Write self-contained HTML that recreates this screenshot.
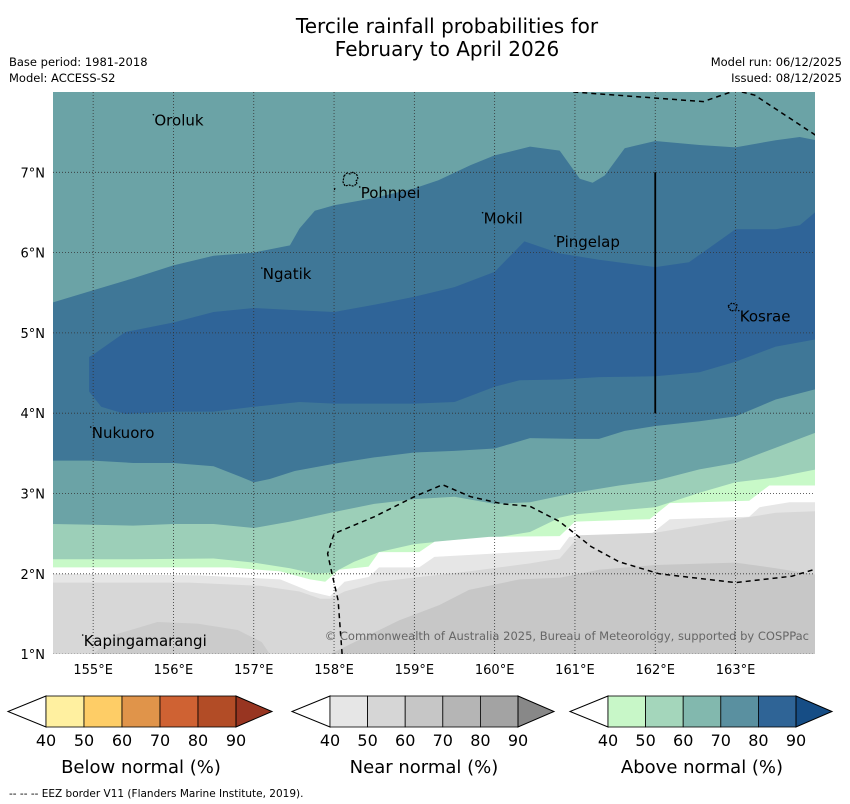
<!DOCTYPE html>
<html><head><meta charset="utf-8"><style>
body{margin:0;background:#fff;font-family:"DejaVu Sans","Liberation Sans",sans-serif}
svg{display:block}
</style></head><body>
<svg width="850" height="804" viewBox="0 0 850 804" xmlns="http://www.w3.org/2000/svg">
<text x="447" y="33" font-size="20" text-anchor="middle">Tercile rainfall probabilities for</text>
<text x="447" y="56" font-size="20" text-anchor="middle">February to April 2026</text>
<text x="9" y="66" font-size="11.5">Base period: 1981-2018</text>
<text x="9" y="82" font-size="11.5">Model: ACCESS-S2</text>
<text x="842" y="66" font-size="11.5" text-anchor="end">Model run: 06/12/2025</text>
<text x="842" y="82" font-size="11.5" text-anchor="end">Issued: 08/12/2025</text>
<defs><clipPath id="mc"><rect x="53" y="92" width="762" height="562"/></clipPath></defs>
<g id="map" clip-path="url(#mc)"></g>
<g id="axes"></g>
<g id="bars"></g>
<text x="9" y="797" font-size="10.5">--  --  -- EEZ border V11 (Flanders Marine Institute, 2019).</text>
</svg>
<script>
const lonTicks=[155,156,157,158,159,160,161,162,163];
const latTicks=[1,2,3,4,5,6,7];
function X(lon){return 53+(lon-154.5)*80.3;}
function Y(lat){return 92+(8-lat)*80.3;}
const midTealTopLon=[154.5,155,155.5,156,156.5,157,157.45,157.57,157.76,158,158.5,159,159.3,159.7,160,160.44,160.81,161.06,161.22,161.37,161.62,162,162.55,163,163.5,163.8,164];
const midTealTopLat=[5.38,5.53,5.68,5.84,5.96,6.0,6.09,6.30,6.52,6.59,6.68,6.80,6.90,7.09,7.21,7.32,7.27,6.92,6.87,6.96,7.30,7.39,7.34,7.31,7.40,7.44,7.40];
const midTealBotLon=[154.5,155,155.5,156,156.5,156.83,157,157.2,157.51,158,158.5,159,159.5,160,160.44,161,161.3,161.62,162,162.55,163,163.5,164];
const midTealBotLat=[3.41,3.41,3.38,3.38,3.34,3.21,3.14,3.18,3.28,3.37,3.45,3.51,3.53,3.56,3.69,3.68,3.68,3.78,3.84,3.90,3.96,4.17,4.30];
const darkTopLon=[154.95,155,155.4,156,156.5,157,157.57,158,158.5,159,159.5,160,160.37,160.81,161.3,162,162.42,162.73,163,163.5,163.8,164];
const darkTopLat=[4.70,4.73,5.01,5.13,5.26,5.31,5.28,5.26,5.35,5.45,5.57,5.76,6.14,5.99,5.91,5.82,5.88,6.10,6.29,6.29,6.34,6.51];
const darkBotLon=[164,163.5,163,162.55,162,161.3,160.81,160.31,160,159.5,159,158.5,158,157.57,157,156.5,156,155.4,155.1,154.95];
const darkBotLat=[4.92,4.83,4.64,4.51,4.46,4.45,4.42,4.41,4.33,4.14,4.12,4.12,4.12,4.14,4.08,4.02,4.02,3.99,4.08,4.27];
const greenTopLon=[154.5,155,155.5,156,156.5,157,157.45,158,158.5,159,159.5,160,160.44,161,161.55,162,162.55,163,163.5,164];
const greenTopLat=[2.62,2.61,2.60,2.62,2.62,2.57,2.65,2.77,2.87,2.93,2.96,2.87,2.89,3.01,3.10,3.16,3.30,3.38,3.57,3.76];
const lgreenTopLon=[154.5,155.5,156.5,157,157.45,157.76,158,158.25,158.56,159,159.5,160,160.44,160.81,161,161.55,162,162.55,163,163.5,164];
const lgreenTopLat=[2.18,2.18,2.19,2.14,2.07,2.00,2.02,2.15,2.27,2.37,2.42,2.45,2.52,2.70,2.74,2.79,2.83,3.01,3.14,3.20,3.30];
const whiteTopLon=[154.5,156.7,157.33,157.7,157.89,158.06,158.43,158.56,159.06,159.25,159.93,160.81,161,161.93,162.18,163.17,163.3,163.42,164];
const whiteTopLat=[2.08,2.08,2.03,1.93,1.90,2.05,2.09,2.27,2.27,2.40,2.46,2.47,2.65,2.68,2.88,2.91,3.01,3.10,3.10];
const lgreyTopLon=[154.5,156.33,157.33,157.7,157.95,158.13,158.43,158.56,159.06,159.25,160.31,160.81,160.93,161.93,162.18,163.17,163.3,163.67,164];
const lgreyTopLat=[2.00,1.98,1.93,1.78,1.72,1.90,1.96,2.08,2.08,2.21,2.27,2.30,2.46,2.48,2.68,2.71,2.83,2.89,2.89];
const greyTopLon=[154.5,156.2,157.08,157.57,157.83,157.95,158.13,158.56,159.06,159.68,160.44,160.81,161.06,162,163,163.5,164];
const greyTopLat=[1.89,1.89,1.85,1.78,1.69,1.69,1.78,1.90,1.96,2.03,2.13,2.19,2.48,2.51,2.68,2.76,2.78];
const dgreyTopLon=[157.95,158.3,158.81,159.31,159.68,160.31,160.81,161.3,162,163,163.5,164];
const dgreyTopLat=[1.0,1.17,1.42,1.61,1.80,1.93,1.95,2.05,2.11,2.14,2.07,1.99];
const dgreyBlobLon=[155.0,155.3,155.8,156.3,156.8,157.1,157.2,157.1,156.5,156,155.3,155.0];
const dgreyBlobLat=[1.0,1.25,1.40,1.38,1.30,1.15,1.0,0.9,0.9,0.9,0.9,1.0];
const eezSouthLon=[158.1,158.05,157.98,157.92,158.0,158.5,159.0,159.35,159.7,160.1,160.44,160.81,161.2,161.55,162.05,163.0,163.7,164];
const eezSouthLat=[1.0,1.67,1.98,2.25,2.5,2.71,2.96,3.11,2.96,2.87,2.84,2.65,2.34,2.15,2.0,1.89,1.97,2.06];
const eezNorthLon=[160.98,162.6,163.0,163.24,164.0];
const eezNorthLat=[8.0,7.88,8.02,7.96,7.46];
const places=[["Oroluk",155.75,7.73],["Pohnpei",158.32,6.83],["Mokil",159.85,6.51],["Pingelap",160.75,6.22],["Ngatik",157.1,5.82],["Kosrae",163.04,5.29],["Nukuoro",154.97,3.84],["Kapingamarangi",154.87,1.25]];
const barLabels=["40","50","60","70","80","90"];
const belowCols=["#fff0a0","#fecd66","#e0944a","#cf6233","#b24c26","#983521"];
const nearCols=["#e6e6e6","#d6d6d6","#c6c6c6","#b5b5b5","#a3a3a3","#888888"];
const aboveCols=["#c8f7c8","#a4d6bb","#82b8ae","#5a90a0","#2f6496","#164d85"];
const NS="http://www.w3.org/2000/svg";
function mk(tag,attrs,parent){const e=document.createElementNS(NS,tag);for(const k in attrs)e.setAttribute(k,attrs[k]);parent.appendChild(e);return e;}
const map=document.getElementById('map');
function pts(lons,lats){return lons.map((l,i)=>X(l).toFixed(1)+","+Y(lats[i]).toFixed(1));}
function band(lons,lats,fill,name){
  const p=pts(lons,lats);p.push(X(lons[lons.length-1])+","+(Y(0.5)));p.push(X(lons[0])+","+Y(0.5));
  const e=mk('polygon',{points:p.join(' '),fill:fill},map);
  
  
}
let bg=mk('rect',{x:53,y:92,width:762,height:562,fill:'#6ba3a6'},map);


let mt=mk('polygon',{points:pts(midTealTopLon,midTealTopLat).concat(pts(midTealBotLon.slice().reverse(),midTealBotLat.slice().reverse())).join(' '),fill:'#3f7797'},map);


let dk=mk('polygon',{points:pts(darkTopLon,darkTopLat).concat(pts(darkBotLon,darkBotLat)).join(' '),fill:'#2f6498'},map);


band(greenTopLon,greenTopLat,'#9ccfb8','green-region');
band(lgreenTopLon,lgreenTopLat,'#c8f9c8','light-green-region');
band(whiteTopLon,whiteTopLat,'#ffffff','white-region');
band(lgreyTopLon,lgreyTopLat,'#e6e6e6','light-grey-region');
band(greyTopLon,greyTopLat,'#d7d7d7','grey-region');
band(dgreyTopLon,dgreyTopLat,'#c7c7c7','dark-grey-region');
let blob=mk('polygon',{points:pts(dgreyBlobLon,dgreyBlobLat).join(' '),fill:'#cbcbcb'},map);


lonTicks.forEach(l=>{let g=mk('line',{x1:X(l),x2:X(l),y1:92,y2:654,stroke:'#333',"stroke-width":0.8,"stroke-dasharray":"1,2"},map);

});
latTicks.forEach(l=>{let g=mk('line',{x1:53,x2:815,y1:Y(l),y2:Y(l),stroke:'#333',"stroke-width":0.8,"stroke-dasharray":"1,2"},map);

});
function dline(p,name){let e=mk('polyline',{points:p.join(' '),fill:'none',stroke:'#000',"stroke-width":1.5,"stroke-dasharray":"5,4"},map);

}
dline(pts(eezSouthLon,eezSouthLat),'eez-border-south');
dline(pts(eezNorthLon,eezNorthLat),'eez-border-north');
let vl=mk('line',{x1:X(162),x2:X(162),y1:Y(7),y2:Y(4),stroke:'#000',"stroke-width":1.8},map);


let pn=mk('path',{d:"M344,176 l3,-3 l3,1 l3,-2 l4,3 l1,4 l-2,2 l1,3 l-4,2 l-4,-1 l-4,1 l-2,-4 z M335,188 l-1,3",fill:'none',stroke:'#000',"stroke-width":1.2,"stroke-dasharray":"2,1"},map);


let ks=mk('path',{d:"M728,306 l4,-3 l5,2 l-1,5 l-5,1 z",fill:'none',stroke:'#000',"stroke-width":1.2,"stroke-dasharray":"2,1"},map);


places.forEach(p=>{
  let d=mk('circle',{cx:X(p[1]),cy:Y(p[2])+1,r:0.8,fill:'#000'},map);
  
  
  let t=mk('text',{x:X(p[1])+1,y:Y(p[2])+12,"font-size":15,fill:'#000'},map);t.textContent=p[0];
  
  
});
let cp=mk('text',{x:809,y:640,"font-size":11.5,fill:'#666',"text-anchor":"end"},map);cp.textContent="© Commonwealth of Australia 2025, Bureau of Meteorology, supported by COSPPac";


const ax=document.getElementById('axes');
lonTicks.forEach(l=>{let t=mk('text',{x:X(l),y:674,"font-size":13,"text-anchor":"middle"},ax);t.textContent=l+"°E";

});
latTicks.forEach(l=>{let t=mk('text',{x:45,y:Y(l)+5,"font-size":13,"text-anchor":"end"},ax);t.textContent=l+"°N";

});
const bars=document.getElementById('bars');
function cbar(x0,x1,cols,title,name){
  const y0=696,y1=727,ym=711.5,w=(x1-x0)/5,tl=38,tr=36;
  let lt=mk('polygon',{points:`${x0},${y0} ${x0-tl},${ym} ${x0},${y1}`,fill:'#fff',stroke:'#000',"stroke-width":1},bars);
  
  
  for(let i=0;i<5;i++){let r=mk('rect',{x:x0+i*w,y:y0,width:w,height:y1-y0,fill:cols[i],stroke:'#000',"stroke-width":0.8},bars);
    
    }
  let rt=mk('polygon',{points:`${x1},${y0} ${x1+tr},${ym} ${x1},${y1}`,fill:cols[5],stroke:'#000',"stroke-width":1},bars);
  
  
  barLabels.forEach((s,i)=>{let t=mk('text',{x:x0+i*w,y:746,"font-size":16,"text-anchor":"middle"},bars);t.textContent=s;
    
    });
  let tt=mk('text',{x:(x0+x1)/2,y:773,"font-size":18,"text-anchor":"middle"},bars);tt.textContent=title;
  
  
}
cbar(46,236,belowCols,"Below normal (%)","below-colorbar");
cbar(330,518,nearCols,"Near normal (%)","near-colorbar");
cbar(608,796,aboveCols,"Above normal (%)","above-colorbar");
</script>
</body></html>
